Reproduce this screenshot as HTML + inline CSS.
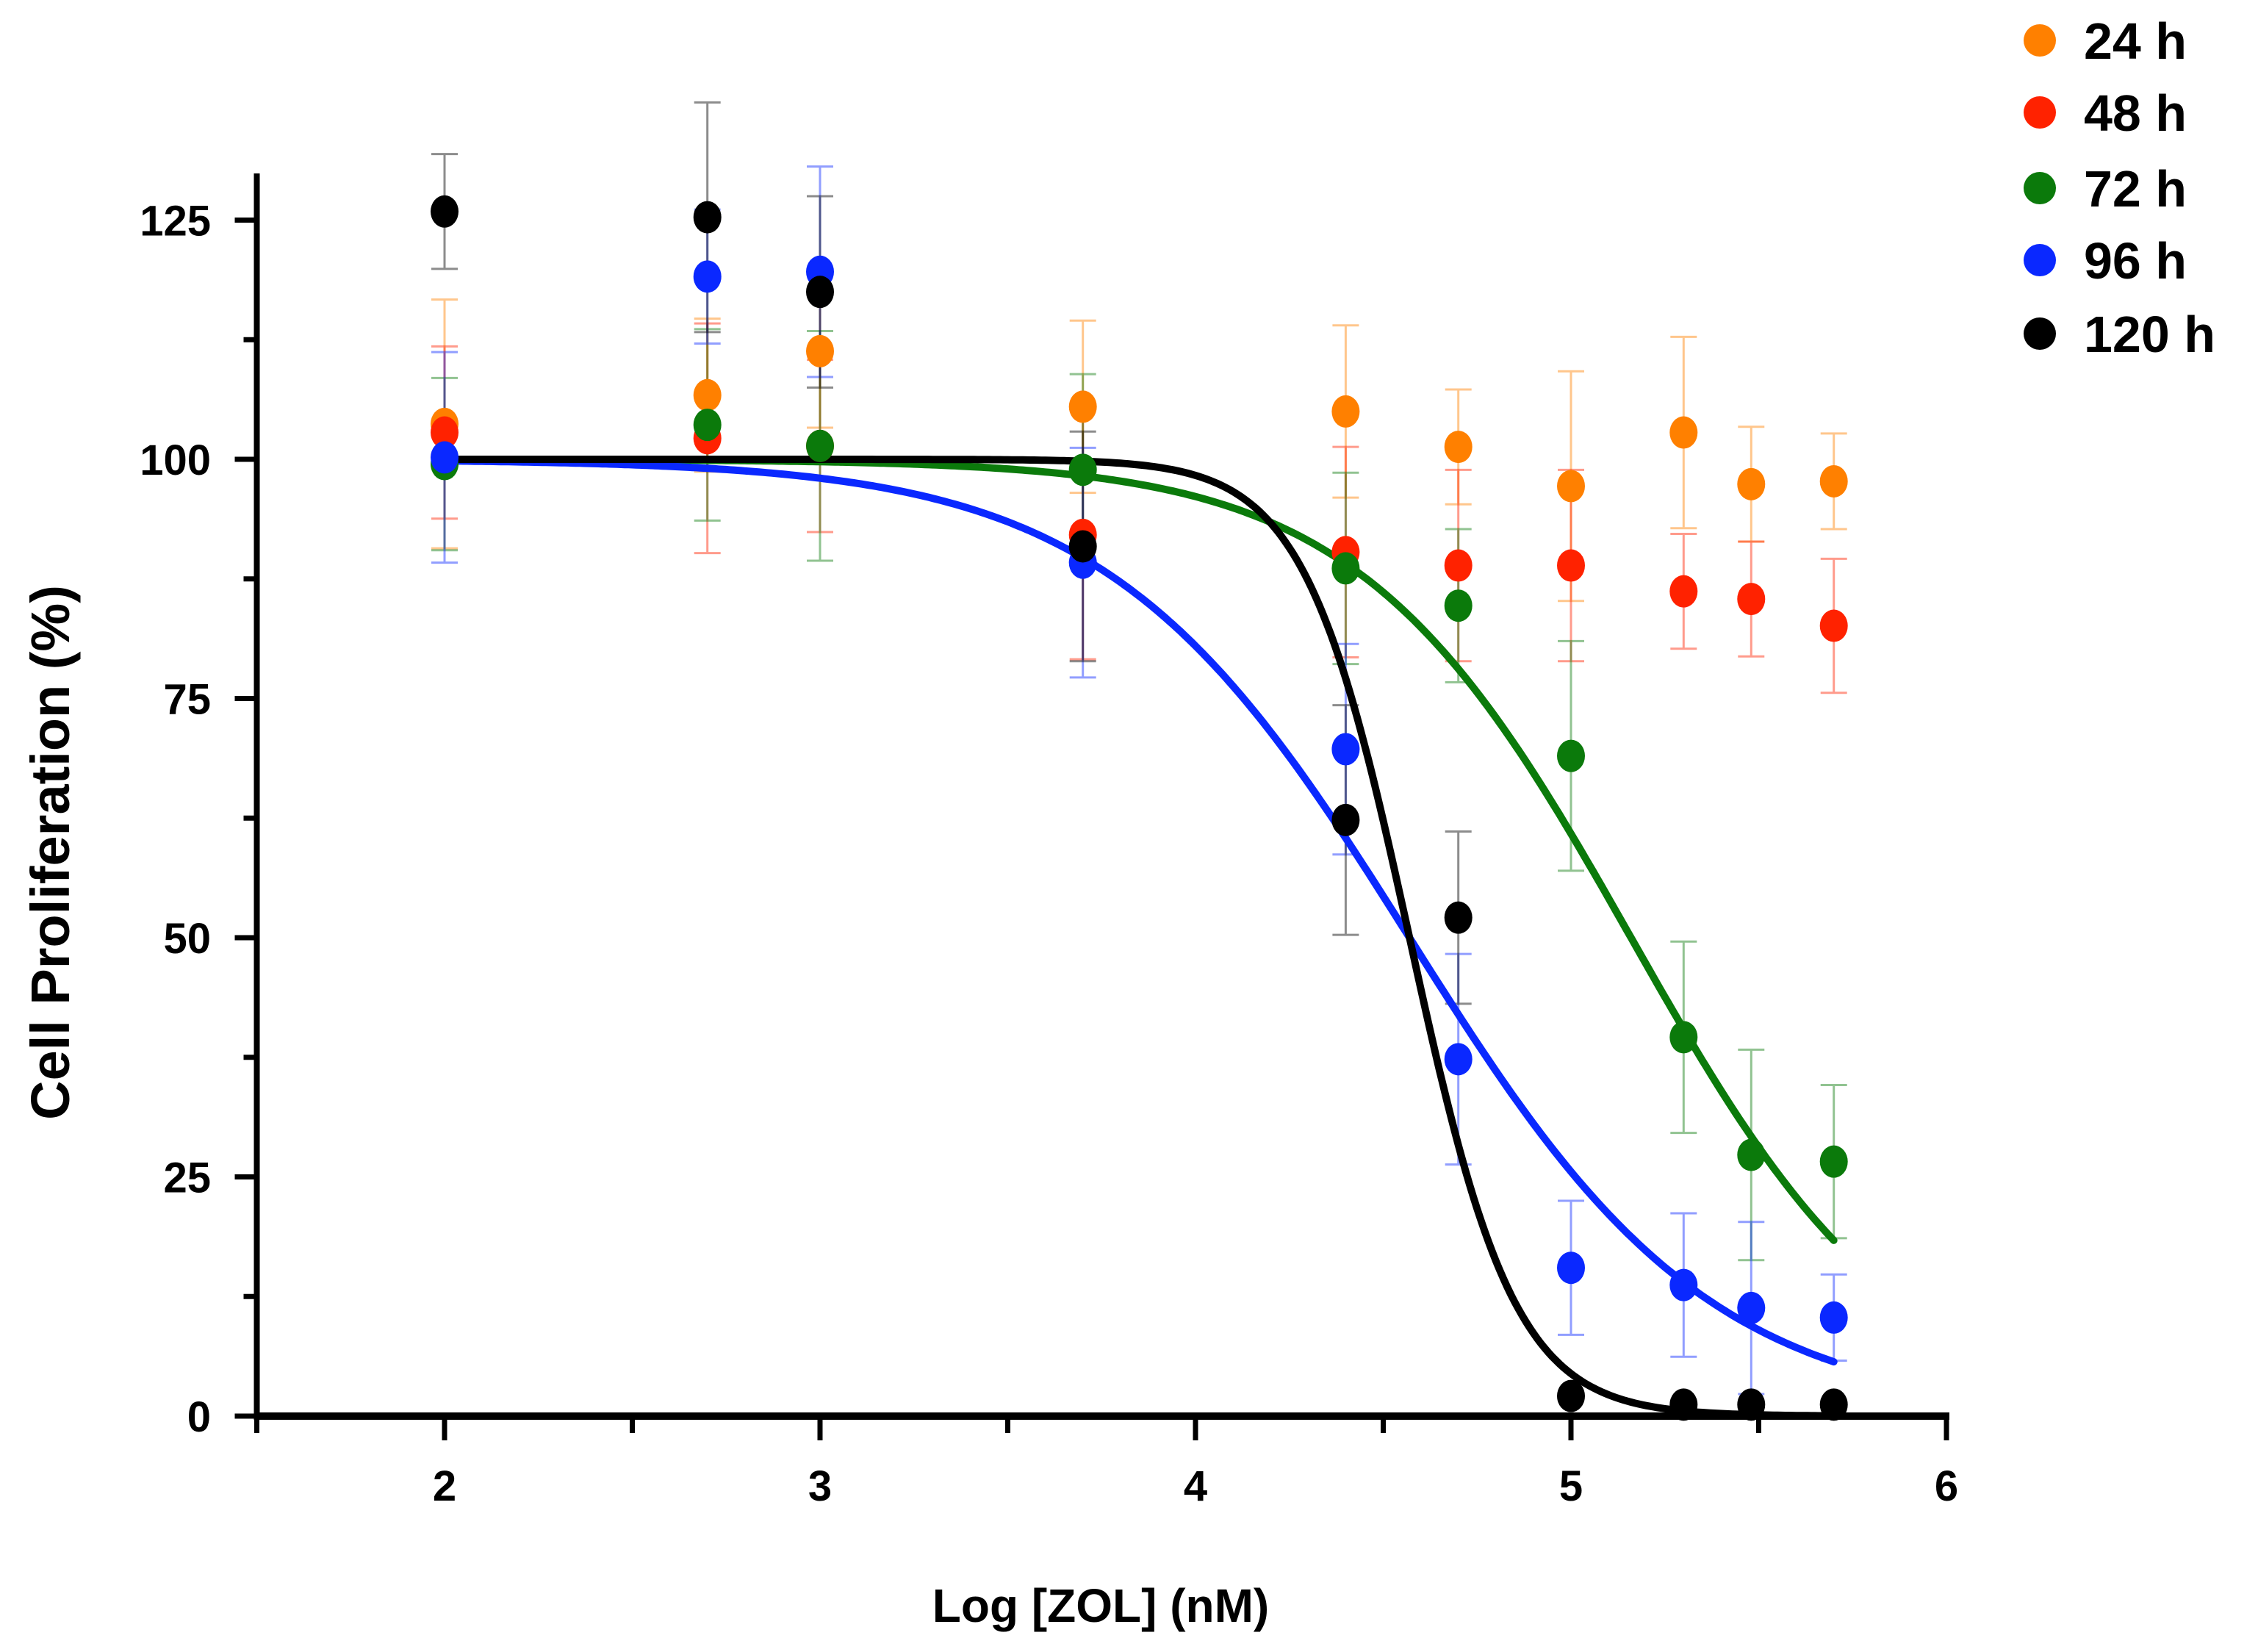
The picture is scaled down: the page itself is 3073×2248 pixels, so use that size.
<!DOCTYPE html>
<html><head><meta charset="utf-8"><style>
html,body{margin:0;padding:0;background:#fff;}
svg{display:block;}
text{font-family:"Liberation Sans",sans-serif;font-weight:bold;fill:#000;}
</style></head><body>
<svg id="chart" width="3073" height="2248" viewBox="0 0 3073 2248">
<g id="axes"></g>
<g id="errs"></g>
<g id="curves"></g>
<g id="pts"></g>
<g id="legend"></g>
<text x="1498" y="2207" font-size="64" text-anchor="middle">Log [ZOL] (nM)</text>
<text transform="translate(94,1160) rotate(-90)" font-size="74" text-anchor="middle">Cell Proliferation (%)</text>
</svg>
<script>
const xVals = [2, 2.7, 3, 3.7, 4.4, 4.7, 5, 5.3, 5.48, 5.7];
const seriesNames = ["24 h", "48 h", "72 h", "96 h", "120 h"];
const seriesColors = ["#ff8000", "#ff2200", "#0b7a0b", "#0a28ff", "#000000"];
const v24 = [103.7, 106.7, 111.3, 105.5, 105, 101.3, 97.2, 102.8, 97.4, 97.7];
const e24 = [13, 8, 8, 9, 9, 6, 12, 10, 6, 5];
const v48 = [102.8, 102.2, 101.4, 92.1, 90.3, 88.9, 88.9, 86.2, 85.4, 82.6];
const e48 = [9, 12, 9, 13, 11, 10, 10, 6, 6, 7];
const v72 = [99.5, 103.6, 101.4, 98.9, 88.6, 84.7, 69, 39.6, 27.3, 26.6];
const e72 = [9, 10, 12, 10, 10, 8, 12, 10, 11, 8];
const v96 = [100.2, 119.1, 119.6, 89.2, 69.7, 37.3, 15.5, 13.7, 11.3, 10.3];
const e96 = [11, 7, 11, 12, 11, 11, 7, 7.5, 9, 4.5];
const v120 = [125.9, 125.3, 117.5, 90.9, 62.3, 52.1, 2.1, 1.2, 1.2, 1.2];
const e120 = [6, 12, 10, 12, 12, 9, 0, 0, 0, 0];
const fitEC50 = [null, null, 5.16, 4.57, 4.57];
const fitHill = [null, null, 1.2, 1.08, 3.1];
const xTicks = [2, 3, 4, 5, 6];
const yTicks = [0, 25, 50, 75, 100, 125];

const NS = "http://www.w3.org/2000/svg";
const X = v => 605 + (v - 2) * 511;
const Y = v => 1927 - v * 13.02;
function mk(parent, tag, attrs) {
  const e = document.createElementNS(NS, tag);
  for (const k in attrs) e.setAttribute(k, attrs[k]);
  document.getElementById(parent).appendChild(e);
  return e;
}
let el = mk("axes", "line", {x1: X(1.5), y1: 1927, x2: X(6)+4, y2: 1927, stroke: "#000", "stroke-width": 10});


el = mk("axes", "line", {x1: X(1.5), y1: 1932, x2: X(1.5), y2: 236, stroke: "#000", "stroke-width": 8});


for (let t = 1.5; t <= 6.01; t += 0.5) {
  const major = Math.abs(t - Math.round(t)) < 0.01;
  el = mk("axes", "line", {x1: X(t), y1: 1927, x2: X(t), y2: major ? 1960 : 1950, stroke: "#000", "stroke-width": 7});
  
  
}
xTicks.forEach(t => {
  el = mk("axes", "text", {x: X(t), y: 2042, "font-size": 58, "text-anchor": "middle"});
  el.textContent = t;
  
  
});
for (let t = 0; t <= 125; t += 12.5) {
  const major = t % 25 === 0;
  el = mk("axes", "line", {x1: X(1.5), y1: Y(t), x2: X(1.5) - (major ? 30 : 18), y2: Y(t), stroke: "#000", "stroke-width": 7});
  
  
}
yTicks.forEach(t => {
  el = mk("axes", "text", {x: 287, y: Y(t) + 21, "font-size": 58, "text-anchor": "end"});
  el.textContent = t;
  
  
});
const vals = [v24, v48, v72, v96, v120];
const errs = [e24, e48, e72, e96, e120];
vals.forEach((vs, s) => {
  vs.forEach((v, i) => {
    const e = errs[s][i];
    if (!e) return;
    const x = X(xVals[i]);
    el = mk("errs", "path", {d: `M${x},${Y(v+e)}V${Y(v-e)}M${x-18},${Y(v+e)}H${x+18}M${x-18},${Y(v-e)}H${x+18}`, stroke: seriesColors[s], "stroke-width": 3, fill: "none", opacity: 0.45});
    
    
  });
});
[2, 3, 4].forEach(s => {
  let d = "";
  for (let x = 2; x <= 5.7001; x += 0.01) {
    const y = 100 / (1 + Math.pow(10, (x - fitEC50[s]) * fitHill[s]));
    d += (d ? "L" : "M") + X(x).toFixed(1) + "," + Y(y).toFixed(1);
  }
  el = mk("curves", "path", {d: d, stroke: seriesColors[s], "stroke-width": 10, fill: "none", "stroke-linecap": "round"});
  
  
});
vals.forEach((vs, s) => {
  vs.forEach((v, i) => {
    el = mk("pts", "ellipse", {cx: X(xVals[i]), cy: Y(v), rx: 19, ry: 22, fill: seriesColors[s]});
    
    
  });
});
const legY = [55, 153, 256, 354, 454];
seriesNames.forEach((n, s) => {
  el = mk("legend", "circle", {cx: 2776, cy: legY[s], r: 22, fill: seriesColors[s]});
  
  
  el = mk("legend", "text", {x: 2836, y: legY[s] + 25, "font-size": 70});
  el.textContent = n;
  
  
});
</script>
</body></html>
